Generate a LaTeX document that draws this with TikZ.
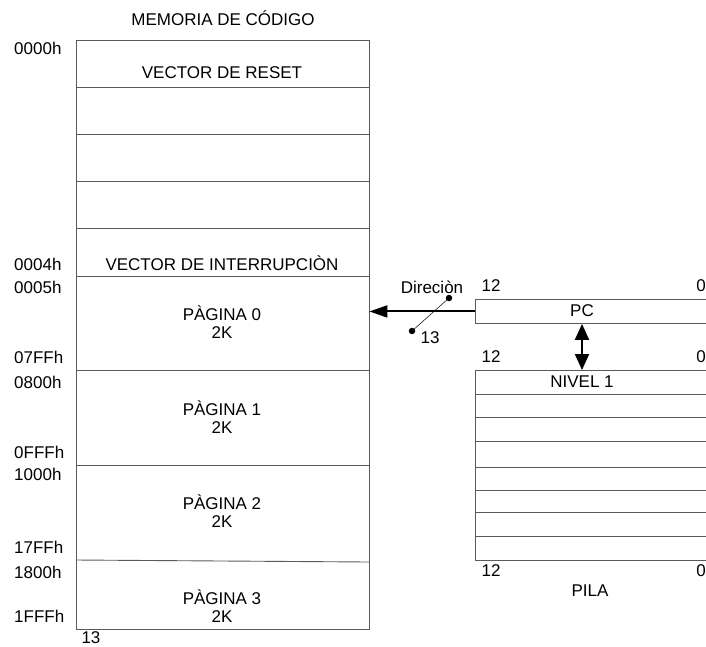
\documentclass[tikz,border=0pt]{standalone}
\usepackage{fontspec}
\setmainfont{Liberation Sans}
\usetikzlibrary{arrows.meta}
\definecolor{linegray}{HTML}{5A5A5A}
\tikzset{
  box/.style={draw=linegray, line width=0.9pt},
  sep/.style={draw=linegray, line width=0.9pt},
  txt/.style={font=\fontsize{17}{18}\selectfont, inner sep=0pt, text=black},
  addr/.style={txt, anchor=west},
  twoline/.style={txt, align=center, font=\fontsize{17}{18.5}\selectfont},
  dot/.style={circle, fill=black, inner sep=0pt, minimum size=6.5pt},
  bigarrow/.style={line width=2pt, -{Triangle[length=18pt,width=12pt]}},
  dblarrow/.style={line width=2pt, {Triangle[length=16pt,width=14pt]}-{Triangle[length=16pt,width=14pt]}},
}
\begin{document}
\begin{tikzpicture}[x=1pt,y=-1pt]
\useasboundingbox (0,0) rectangle (706,646);
\clip (0,0) rectangle (706,646);
% memory box
\node[box, minimum width=293pt, minimum height=589pt, inner sep=0pt, anchor=north west] (mem) at (76,40) {};
\foreach \yy in {87,134,181,228,276,370,465} {
  \draw[sep] (76,\yy) -- (369,\yy);
}
\draw[sep] (76,560) -- (369,562);
% cell node (invisible) for the connector
\node[inner sep=0pt, minimum width=293pt, minimum height=94pt, anchor=north west] (pag0) at (76,276) {};
% title and texts
\node[txt] (title) at (223,18) {MEMORIA DE CÓDIGO};
\node[txt] (reset) at (222,73) {VECTOR DE RESET};
\node[txt] (inter) at (222,263) {VECTOR DE INTERRUPCIÒN};
\node[twoline] (p0) at (222,322) {PÀGINA 0\\2K};
\node[twoline] (p1) at (222,417) {PÀGINA 1\\2K};
\node[twoline] (p2) at (222,511) {PÀGINA 2\\2K};
\node[twoline] (p3) at (222,606) {PÀGINA 3\\2K};
% addresses
\node[addr] (a0) at (14,48) {0000h};
\node[addr] (a4) at (14,264) {0004h};
\node[addr] (a5) at (14,287) {0005h};
\node[addr] (a7ff) at (14,357) {07FFh};
\node[addr] (a800) at (14,382) {0800h};
\node[addr] (afff) at (14,452) {0FFFh};
\node[addr] (a1000) at (14,474) {1000h};
\node[addr] (a17ff) at (14,547) {17FFh};
\node[addr] (a1800) at (14,572) {1800h};
\node[addr] (a1fff) at (14,616) {1FFFh};
\node[txt] (m13) at (91,638) {13};
% PC register
\node[box, minimum width=240pt, minimum height=24pt, inner sep=0pt, anchor=north west] (pc) at (475,299) {};
\node[txt] (pclabel) at (582,311) {PC};
\node[txt] (pc12) at (491,286) {12};
\node[txt] (pc0) at (701,286) {0};
% address arrow
\draw[bigarrow] (pc.west) -- (pc.west -| pag0.east);
\node[dot] (d1) at (449,298) {};
\node[dot] (d2) at (412,331) {};
\draw[line width=0.5pt] (d1.center) -- (d2.center);
\node[txt] (dir) at (432,287) {Direciòn};
\node[txt] (b13) at (430,338) {13};
% stack
\node[box, minimum width=240pt, minimum height=190pt, inner sep=0pt, anchor=north west] (pila) at (475,370) {};
\foreach \yy in {394,417,441,467,490,512,536} {
  \draw[sep] (475,\yy) -- (710,\yy);
}
\node[txt] (niv) at (582,382) {NIVEL 1};
\node[txt] (s12) at (491,357) {12};
\node[txt] (s0) at (701,357) {0};
\node[txt] (t12) at (491,571) {12};
\node[txt] (t0) at (701,571) {0};
\node[txt] (pilalabel) at (590,591) {PILA};
% double arrow PC <-> stack
\draw[dblarrow] (pc.south -| pclabel) -- (pila.north -| pclabel);
\end{tikzpicture}
\end{document}
